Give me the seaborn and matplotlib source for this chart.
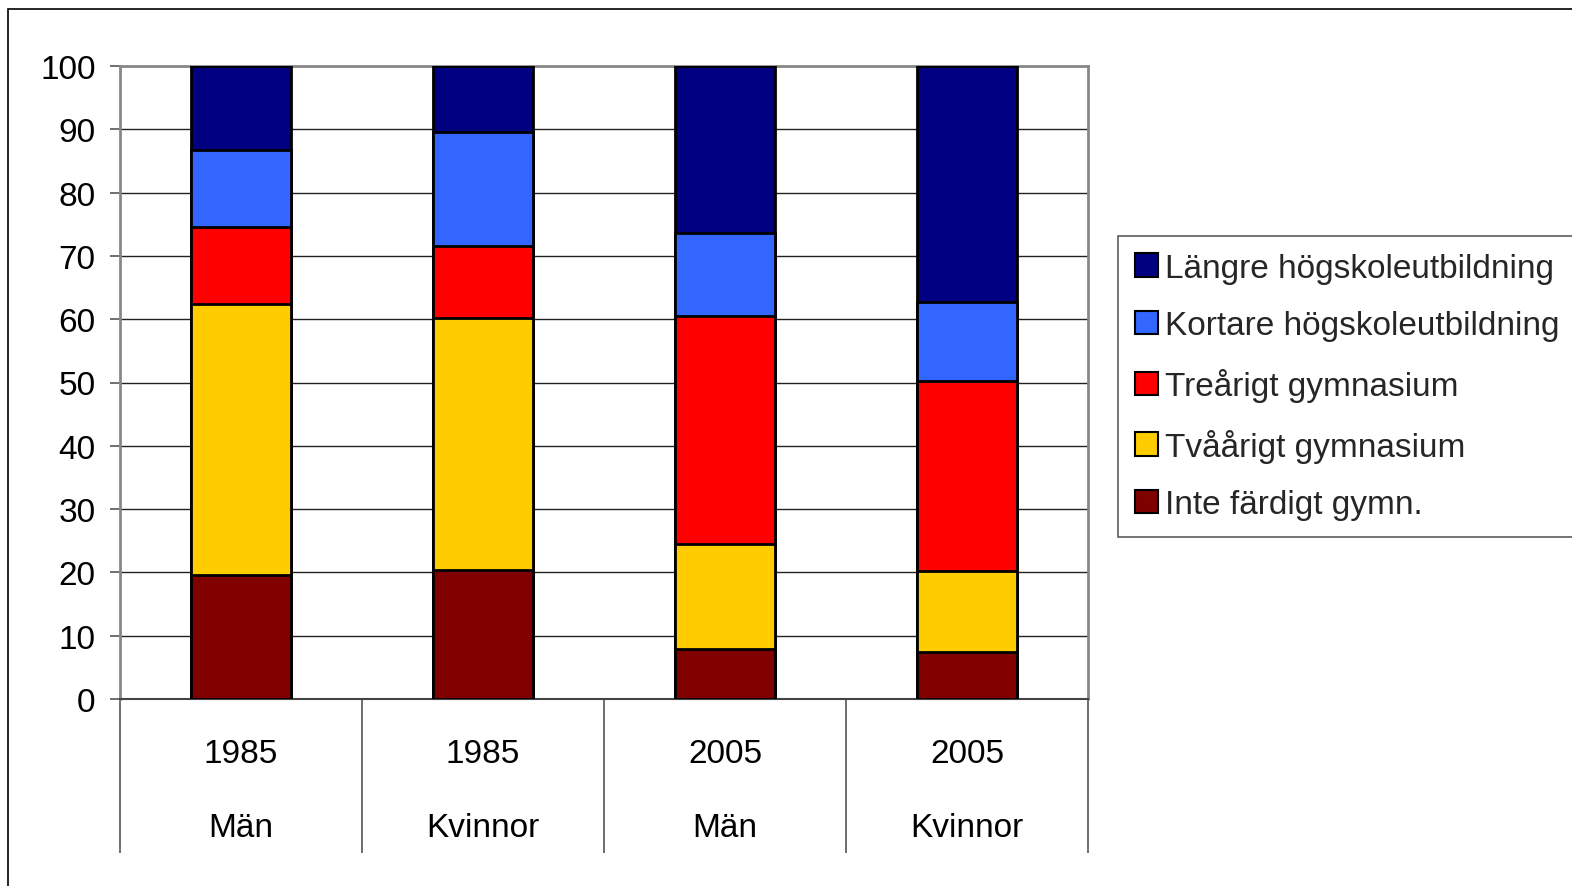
import matplotlib
matplotlib.use("Agg")
import matplotlib.pyplot as plt
import seaborn as sns
import numpy as np
from matplotlib.patches import Rectangle, Patch

years = ["1985", "1985", "2005", "2005"]
groups = ["Män", "Kvinnor", "Män", "Kvinnor"]
categories = [f"{y}\n{g}" for y, g in zip(years, groups)]

series_names = ["Inte färdigt gymn.", "Tvåårigt gymnasium", "Treårigt gymnasium",
                "Kortare högskoleutbildning", "Längre högskoleutbildning"]
inte_fardigt = [19.6, 20.4, 7.9, 7.4]
tvaarigt = [42.8, 39.8, 16.6, 12.8]
trearigt = [12.1, 11.4, 36.0, 30.1]
kortare = [12.3, 17.9, 13.1, 12.4]
langre = [13.2, 10.5, 26.4, 37.3]
colors = ["#800000", "#FFCC00", "#FF0000", "#3366FF", "#000080"]

sns.set_theme(style="white")
plt.rcParams['font.family'] = ['Liberation Sans', 'DejaVu Sans']

W, H = 1572, 887
fig = plt.figure(figsize=(W / 100, H / 100), dpi=100)
ax = fig.add_axes([120 / W, 1 - 700 / H, (1088 - 120) / W, (700 - 67) / H])

# outer frame
fig.patches.append(Rectangle((8 / W, -0.1), 1.2, (1 - 10 / H) + 0.1, transform=fig.transFigure,
                             fill=False, edgecolor="black", linewidth=1.2, zorder=-5))

data = [inte_fardigt, tvaarigt, trearigt, kortare, langre]
cum = np.cumsum(np.array(data), axis=0)

for i in range(len(series_names) - 1, -1, -1):
    sns.barplot(x=categories, y=cum[i], order=categories, color=colors[i], width=0.41,
                edgecolor="black", linewidth=2.0, ax=ax, saturation=1, zorder=3)

ax.set_ylim(0, 100)
ax.set_xlim(-0.5, 3.5)
ax.set_yticks(range(0, 101, 10))
ax.yaxis.grid(True, color="#222222", linewidth=1.0, zorder=0)
ax.xaxis.grid(False)
ax.set_axisbelow(True)

for s in ["left", "top", "right"]:
    ax.spines[s].set_color("#888888")
    ax.spines[s].set_linewidth(2)
ax.spines["bottom"].set_color("#444444")
ax.spines["bottom"].set_linewidth(1.5)

ax.tick_params(axis="y", which="major", length=7.5, width=1.2, color="#555555",
               direction="out", left=True, pad=10, labelsize=24, labelcolor="black")
ax.tick_params(axis="x", which="major", length=0, pad=28, labelsize=24, labelcolor="black")
ax.set_xticks(range(4))
ax.set_xticklabels(categories, linespacing=2.8)
ax.set_xticks([-0.5, 0.5, 1.5, 2.5, 3.5], minor=True)
ax.tick_params(axis="x", which="minor", length=111, width=1.2, color="#555555",
               direction="out", bottom=True)
ax.set_xlabel("")
ax.set_ylabel("")

handles = [Patch(facecolor=colors[i], edgecolor="black", linewidth=1.5, label=series_names[i])
           for i in range(len(series_names) - 1, -1, -1)]
leg = ax.legend(handles=handles, loc="upper left",
                bbox_to_anchor=(1118 / W, 1 - 237 / H), bbox_transform=fig.transFigure,
                fontsize=24, frameon=True, fancybox=False, edgecolor="#333333",
                handlelength=0.7, handleheight=0.7, handletextpad=0.2,
                labelspacing=0.8, borderpad=0.5, borderaxespad=0)
leg.get_frame().set_linewidth(1.2)

fig.savefig("out.png", dpi=100)
